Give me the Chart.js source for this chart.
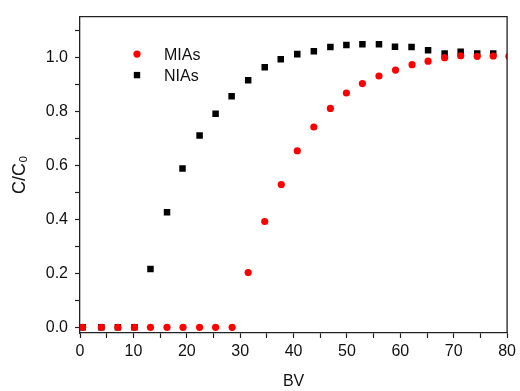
<!DOCTYPE html>
<html>
<head>
<meta charset="utf-8">
<script src="https://cdn.jsdelivr.net/npm/chart.js@4.4.1/dist/chart.umd.min.js"></script>
<style>
    html, body { margin: 0; padding: 0; background: #fff; }
    #wrap { width: 520px; height: 391px; }
</style>
</head>
<body>
<div id="wrap"><canvas id="bvChart"></canvas></div>
<script>
// Breakthrough curves, C/C0 against bed volumes
const bvMIAs = [0.5, 4.0, 7.1, 10.2, 13.2, 16.3, 19.3, 22.4, 25.4, 28.5, 31.5, 34.6, 37.7, 40.7, 43.8,
    46.9, 49.9, 52.9, 56.0, 59.1, 62.2, 65.2, 68.3, 71.3, 74.4, 77.4, 80.35];
const ccMIAs = [0, 0, 0, 0, 0, 0, 0, 0, 0, 0, 0.203, 0.392, 0.529, 0.654, 0.742,
    0.811, 0.868, 0.903, 0.931, 0.953, 0.973, 0.986, 0.999, 1.006, 1.004, 1.005, 1.004];

const bvNIAs = [0.5, 4.0, 7.1, 10.2, 13.2, 16.3, 19.2, 22.4, 25.4, 28.4, 31.5, 34.6, 37.6, 40.7, 43.8,
    46.9, 49.9, 52.9, 56.0, 59.0, 62.1, 65.2, 68.3, 71.3, 74.4, 77.4];
const ccNIAs = [0, 0, 0, 0, 0.216, 0.426, 0.588, 0.711, 0.791, 0.856, 0.915, 0.963, 0.993, 1.012, 1.023,
    1.038, 1.046, 1.049, 1.049, 1.039, 1.038, 1.026, 1.014, 1.021, 1.014, 1.014];

const xMajorTicks = [0, 10, 20, 30, 40, 50, 60, 70, 80];
const xMinorTicks = [5, 15, 25, 35, 45, 55, 65, 75];
const yMajorTicks = [0, 0.2, 0.4, 0.6, 0.8, 1.0];
const yMinorTicks = [0.1, 0.3, 0.5, 0.7, 0.9, 1.1];

const seriesNames = ['MIAs', 'NIAs'];

const FONT = "'Liberation Sans', Arial, 'DejaVu Sans', sans-serif";
const AXIS_COLOR = '#222';

function toPoints(xs, ys) {
    return xs.map((x, i) => ({ x: x, y: ys[i] }));
}

function setTicks(major, minor) {
    return function (scale) {
        scale.ticks = major.concat(minor).sort((a, b) => a - b).map(v => ({ value: v }));
    };
}

// Frame on top and right of plot area
const framePlugin = {
    id: 'frame',
    afterDraw(chart) {
        const { ctx, chartArea } = chart;
        ctx.save();
        ctx.strokeStyle = AXIS_COLOR;
        ctx.lineWidth = 1.3;
        ctx.beginPath();
        ctx.moveTo(chartArea.left, chartArea.top);
        ctx.lineTo(chartArea.right, chartArea.top);
        ctx.lineTo(chartArea.right, chartArea.bottom);
        ctx.stroke();
        ctx.restore();
    }
};

// Legend inside plot area, top left
const insideLegend = {
    id: 'insideLegend',
    afterDraw(chart) {
        const { ctx, chartArea } = chart;
        const mx = chartArea.left + 57;
        const rows = [chartArea.top + 37.5, chartArea.top + 58.5];
        ctx.save();
        ctx.font = '16px ' + FONT;
        ctx.textBaseline = 'middle';
        chart.data.datasets.forEach((ds, i) => {
            const y = rows[i];
            ctx.fillStyle = ds.backgroundColor;
            ctx.beginPath();
            if (ds.pointStyle === 'rect') {
                ctx.rect(mx - 3.2, y - 3.2, 6.4, 6.4);
            } else {
                ctx.arc(mx, y, 3.6, 0, Math.PI * 2);
            }
            ctx.fill();
            ctx.fillStyle = '#111';
            ctx.fillText(ds.label, mx + 27, y + 1);
        });
        ctx.restore();
    }
};

new Chart(document.getElementById('bvChart'), {
    type: 'scatter',
    data: {
        datasets: [
            {
                label: seriesNames[0],
                data: toPoints(bvMIAs, ccMIAs),
                pointStyle: 'circle',
                pointRadius: 3.6,
                backgroundColor: '#ff0000',
                borderWidth: 0,
                clip: 0
            },
            {
                label: seriesNames[1],
                data: toPoints(bvNIAs, ccNIAs),
                pointStyle: 'rect',
                pointRadius: 4.6,
                backgroundColor: '#000000',
                borderWidth: 0,
                clip: 0
            }
        ]
    },
    options: {
        responsive: true,
        maintainAspectRatio: false,
        animation: false,
        layout: {
            padding: { top: 15, right: 10, left: 0, bottom: 0 }
        },
        plugins: {
            legend: { display: false },
            tooltip: { enabled: false }
        },
        scales: {
            x: {
                type: 'linear',
                min: 0,
                max: 80,
                afterBuildTicks: setTicks(xMajorTicks, xMinorTicks),
                afterFit(scale) { scale.height = 58; },
                border: { color: AXIS_COLOR, width: 1.3 },
                grid: {
                    drawOnChartArea: false,
                    drawTicks: true,
                    tickLength: 5,
                    tickColor: AXIS_COLOR,
                    tickWidth: 1.2
                },
                ticks: {
                    autoSkip: false,
                    maxRotation: 0,
                    padding: 4,
                    color: '#111',
                    font: { family: FONT, size: 16 },
                    callback: (v) => xMajorTicks.includes(v) ? String(v) : ''
                },
                title: {
                    display: true,
                    text: 'BV',
                    color: '#111',
                    font: { family: FONT, size: 16 },
                    padding: { top: 0, bottom: 0 }
                }
            },
            y: {
                type: 'linear',
                min: -0.021,
                max: 1.151,
                afterBuildTicks: setTicks(yMajorTicks, yMinorTicks),
                afterFit(scale) { scale.width = 80; },
                border: { color: AXIS_COLOR, width: 1.3 },
                grid: {
                    drawOnChartArea: false,
                    drawTicks: true,
                    tickLength: 5,
                    tickColor: AXIS_COLOR,
                    tickWidth: 1.2
                },
                ticks: {
                    autoSkip: false,
                    padding: 7,
                    color: '#111',
                    font: { family: FONT, size: 16 },
                    callback: (v) => yMajorTicks.some(t => Math.abs(t - v) < 1e-9) ? v.toFixed(1) : ''
                },
                title: {
                    display: true,
                    text: 'C/C₀',
                    color: '#111',
                    font: { family: FONT, size: 18 },
                    padding: { top: 9, bottom: 0 }
                }
            }
        }
    },
    plugins: [framePlugin, insideLegend]
});
</script>
</body>
</html>
